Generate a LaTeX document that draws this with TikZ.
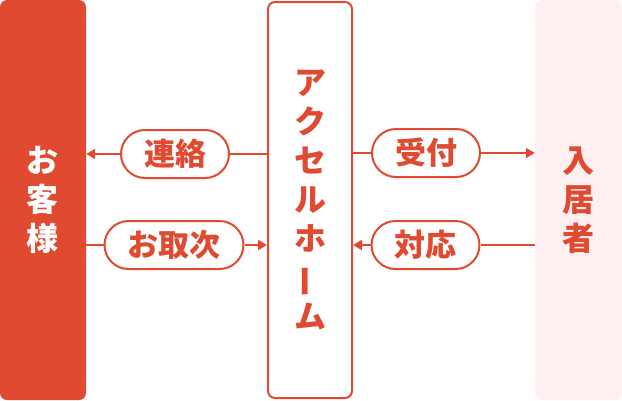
\documentclass[tikz,border=0pt]{standalone}
\usepackage{fontspec}
\newfontfamily\jp{Noto Sans CJK JP}
\usetikzlibrary{arrows.meta}
\definecolor{akared}{HTML}{E04A30}
\definecolor{usupink}{HTML}{FEF0F0}
\tikzset{
  >={Triangle[length=9pt,width=10pt]},
  tate/.style = {align=center, font=\jp\bfseries\fontsize{32}{39}\selectfont},
  colbox/.style = {tate, minimum width=#1, minimum height=400pt, inner sep=0pt, rounded corners=7pt},
  pill/.style = {draw=akared, fill=white, line width=2pt, rounded corners=24pt,
    minimum height=48pt, inner xsep=23pt, inner ysep=0pt, text=akared,
    font=\jp\bfseries\fontsize{31}{31}\selectfont},
  link/.style = {draw=akared, line width=2pt}
}

\begin{document}
\begin{tikzpicture}[x=1pt,y=-1pt]
  \useasboundingbox (0,0) rectangle (622,400);
  % columns
  \node[colbox=86pt, fill=akared, text=white] (kyaku) at (43,200) {お\\客\\様};
  \node[colbox=84pt, minimum height=396pt, draw=akared, line width=2pt, fill=white, text=akared]
    (home) at (310,200) {ア\\ク\\セ\\ル\\ホ\\\rotatebox[origin=c]{90}{ー}\\ム};
  \node[colbox=87pt, fill=usupink, text=akared] (nyukyo) at (578.5,200) {入\\居\\者};
  % labels
  \node[pill] (renraku) at (175,154) {連絡};
  \node[pill] (uketsuke) at (426,153) {受付};
  \node[pill] (toritsugi) at (174,245) {お取次};
  \node[pill] (taiou) at (425.5,245) {対応};
  % flows
  \draw[link] (home.west |- renraku) -- (renraku);
  \draw[link,->] (renraku) -- (kyaku.east |- renraku);
  \draw[link] (kyaku.east |- toritsugi) -- (toritsugi);
  \draw[link,->] (toritsugi) -- (home.west |- toritsugi);
  \draw[link] (home.east |- uketsuke) -- (uketsuke);
  \draw[link,->] (uketsuke) -- (nyukyo.west |- uketsuke);
  \draw[link] (nyukyo.west |- taiou) -- (taiou);
  \draw[link,->] (taiou) -- (home.east |- taiou);
\end{tikzpicture}
\end{document}
